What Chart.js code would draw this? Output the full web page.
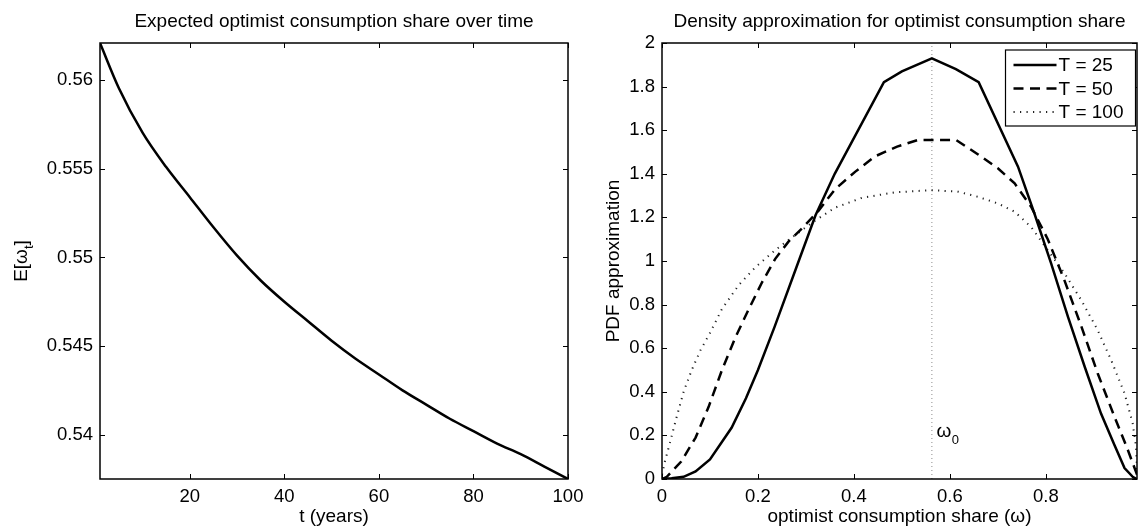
<!DOCTYPE html>
<html>
<head>
<meta charset="utf-8">
<script src="https://cdn.jsdelivr.net/npm/chart.js@4.4.1/dist/chart.umd.min.js"></script>
<style>
  html, body { margin: 0; padding: 0; background: #fff; }
  #wrap { position: relative; width: 1138px; height: 526px; overflow: hidden; background: #fff; }
  canvas { position: absolute; top: 0; }
</style>
</head>
<body>
<div id="wrap">
  <canvas id="left" width="668" height="526" style="left:0px"></canvas>
  <canvas id="right" width="548" height="526" style="left:590px"></canvas>
</div>
<script>
// left panel: expected optimist consumption share
const years = [1, 5, 10, 15, 20, 25, 30, 35, 40, 45, 50, 55, 60, 65, 70, 75, 80, 85, 90, 95, 100];
const expShare = [0.5621, 0.55955, 0.55704, 0.5551, 0.5534, 0.5517, 0.5501, 0.5487, 0.5475, 0.5464, 0.5453,
                  0.5443, 0.5434, 0.5425, 0.5417, 0.5409, 0.5402, 0.5395, 0.5389, 0.5382, 0.5375];
const leftXTicks = [20, 40, 60, 80, 100];
const leftYTicks = [0.54, 0.545, 0.55, 0.555, 0.56];

// right panel: density approximations
const omega25 = [0, 0.02, 0.045, 0.07, 0.10, 0.145, 0.175, 0.20, 0.235, 0.28, 0.32, 0.36, 0.4625, 0.50, 0.5625,
                 0.6125, 0.66, 0.742, 0.776, 0.811, 0.846, 0.881, 0.915, 0.943, 0.964, 0.982, 0.99];
const pdf25 = [0, 0.003, 0.01, 0.035, 0.09, 0.235, 0.37, 0.50, 0.70, 0.97, 1.21, 1.40, 1.82, 1.87, 1.93,
               1.88, 1.82, 1.433, 1.219, 0.989, 0.745, 0.515, 0.30, 0.156, 0.05, 0.008, 0];
const omega50 = [0, 0.01, 0.04, 0.07, 0.097, 0.125, 0.153, 0.181, 0.208, 0.236, 0.264, 0.292, 0.326, 0.361, 0.403,
                 0.444, 0.49, 0.533, 0.5625, 0.613, 0.658, 0.70, 0.735, 0.769, 0.804, 0.839, 0.874, 0.908, 0.943, 0.971, 0.99];
const pdf50 = [0, 0.01, 0.08, 0.19, 0.33, 0.50, 0.65, 0.78, 0.90, 1.01, 1.09, 1.15, 1.23, 1.33, 1.41,
               1.48, 1.525, 1.555, 1.555, 1.555, 1.49, 1.425, 1.356, 1.25, 1.10, 0.91, 0.70, 0.485, 0.286, 0.133, 0.02];
const omega100 = [0, 0.006, 0.017, 0.03, 0.045, 0.062, 0.08, 0.10, 0.125, 0.16, 0.194, 0.236, 0.278, 0.319, 0.361,
                  0.417, 0.486, 0.5625, 0.617, 0.658, 0.70, 0.735, 0.769, 0.804, 0.839, 0.874, 0.908, 0.936, 0.964, 0.981, 0.988, 0.99];
const pdf100 = [0.02, 0.08, 0.17, 0.28, 0.40, 0.50, 0.59, 0.67, 0.78, 0.89, 0.97, 1.05, 1.12, 1.185, 1.245,
                1.29, 1.315, 1.325, 1.318, 1.295, 1.264, 1.226, 1.157, 1.05, 0.943, 0.82, 0.683, 0.546, 0.393, 0.255, 0.15, 0.04];
const omega0 = 0.5625;
const rightXTicks = [0, 0.2, 0.4, 0.6, 0.8];
const rightYTicks = [0, 0.2, 0.4, 0.6, 0.8, 1, 1.2, 1.4, 1.6, 1.8, 2];
const seriesNames = ['T = 25', 'T = 50', 'T = 100'];

const FONT = "'Liberation Sans', Arial, Helvetica, sans-serif";
const TICK_LEN = 5;

function fmt(v) { return String(Number(v.toFixed(4))); }
function pts(xs, ys) { return xs.map((x, i) => ({ x: x, y: ys[i] })); }

// box + inward ticks on all four sides, matlab style
function drawFrame(chart) {
  const ctx = chart.ctx, a = chart.chartArea;
  const xs = chart.scales.x, ys = chart.scales.y;
  ctx.save();
  ctx.strokeStyle = '#000';
  ctx.lineWidth = 1;
  ctx.beginPath();
  xs.ticks.forEach(t => {
    const px = Math.round(xs.getPixelForValue(t.value)) + 0.5;
    ctx.moveTo(px, a.bottom); ctx.lineTo(px, a.bottom - TICK_LEN);
    ctx.moveTo(px, a.top); ctx.lineTo(px, a.top + TICK_LEN);
  });
  ys.ticks.forEach(t => {
    const py = Math.round(ys.getPixelForValue(t.value)) + 0.5;
    ctx.moveTo(a.left, py); ctx.lineTo(a.left + TICK_LEN, py);
    ctx.moveTo(a.right, py); ctx.lineTo(a.right - TICK_LEN, py);
  });
  ctx.stroke();
  ctx.lineWidth = 1.5;
  ctx.strokeRect(a.left, a.top, a.right - a.left, a.bottom - a.top);
  ctx.restore();
}

function drawTitle(chart, text) {
  const ctx = chart.ctx, a = chart.chartArea;
  ctx.save();
  ctx.fillStyle = '#000';
  ctx.font = '19px ' + FONT;
  ctx.textAlign = 'center';
  ctx.textBaseline = 'middle';
  ctx.fillText(text, (a.left + a.right) / 2, 22);
  ctx.restore();
}

function baseScale(min, max, ticks, size, isX) {
  return {
    type: 'linear', min: min, max: max,
    grid: { display: false, drawTicks: false }, border: { display: false },
    afterBuildTicks: s => { s.ticks = ticks.map(v => ({ value: v })); },
    afterFit: s => { if (isX) s.height = size; else s.width = size; },
    ticks: { color: '#000', font: { family: FONT, size: 18.5 }, padding: isX ? 6.5 : 7, callback: v => fmt(v), autoSkip: false, maxRotation: 0 }
  };
}

const leftPlugin = {
  id: 'leftDeco',
  afterDraw(chart) {
    drawFrame(chart);
    drawTitle(chart, 'Expected optimist consumption share over time');
    const ctx = chart.ctx, a = chart.chartArea;
    // y label E[w_t] with subscript
    ctx.save();
    ctx.translate(22, (a.top + a.bottom) / 2);
    ctx.rotate(-Math.PI / 2);
    ctx.fillStyle = '#000';
    ctx.textBaseline = 'middle';
    ctx.font = '19px ' + FONT;
    const w1 = ctx.measureText('E[ω').width;
    ctx.font = '13px ' + FONT;
    const w2 = ctx.measureText('t').width;
    ctx.font = '19px ' + FONT;
    const w3 = ctx.measureText(']').width;
    let x0 = -(w1 + w2 + w3) / 2;
    ctx.textAlign = 'left';
    ctx.fillText('E[ω', x0, 0);
    ctx.font = '13px ' + FONT;
    ctx.fillText('t', x0 + w1, 7);
    ctx.font = '19px ' + FONT;
    ctx.fillText(']', x0 + w1 + w2, 0);
    ctx.restore();
  }
};

const rightPlugin = {
  id: 'rightDeco',
  afterDraw(chart) {
    drawFrame(chart);
    drawTitle(chart, 'Density approximation for optimist consumption share');
    const ctx = chart.ctx, a = chart.chartArea;
    const xs = chart.scales.x, ys = chart.scales.y;
    // omega_0 label
    ctx.save();
    ctx.fillStyle = '#000';
    ctx.textBaseline = 'middle';
    ctx.textAlign = 'left';
    ctx.font = '19px ' + FONT;
    const lx = xs.getPixelForValue(0.572), ly = ys.getPixelForValue(0.215);
    ctx.fillText('ω', lx, ly);
    const ww = ctx.measureText('ω').width;
    ctx.font = '13px ' + FONT;
    ctx.fillText('0', lx + ww + 0.5, ly + 8);
    ctx.restore();
    // legend
    const bw = 130, bh = 76;
    const bx = a.right - bw - 1.5, by = a.top + 7;
    const dashes = chart.data.datasets.slice(0, 3).map(d => ({ dash: d.borderDash || [], w: d.borderWidth, c: d.borderColor }));
    ctx.save();
    ctx.fillStyle = '#fff';
    ctx.fillRect(bx, by, bw, bh);
    ctx.strokeStyle = '#000';
    ctx.lineWidth = 1.2;
    ctx.strokeRect(bx, by, bw, bh);
    seriesNames.forEach((name, i) => {
      const yy = by + 15 + i * 23.5;
      ctx.strokeStyle = dashes[i].c;
      ctx.lineWidth = dashes[i].w;
      ctx.setLineDash(dashes[i].dash);
      ctx.beginPath();
      ctx.moveTo(bx + 8, yy);
      ctx.lineTo(bx + 51, yy);
      ctx.stroke();
      ctx.setLineDash([]);
      ctx.fillStyle = '#000';
      ctx.font = '19px ' + FONT;
      ctx.textAlign = 'left';
      ctx.textBaseline = 'middle';
      ctx.fillText(name, bx + 53, yy + 1);
    });
    ctx.restore();
  }
};

new Chart(document.getElementById('left'), {
  type: 'line',
  data: {
    datasets: [{
      data: pts(years, expShare),
      borderColor: '#000', borderWidth: 2.5, pointRadius: 0,
      cubicInterpolationMode: 'monotone', fill: false
    }]
  },
  options: {
    responsive: false, animation: false, devicePixelRatio: 1,
    layout: { padding: { left: 0, right: 100, top: 43, bottom: 0 } },
    plugins: { legend: { display: false }, tooltip: { enabled: false } },
    scales: {
      x: Object.assign(baseScale(1, 100, leftXTicks, 47, true), {
        title: { display: true, text: 't (years)', color: '#000', font: { family: FONT, size: 19 }, padding: { top: 0, bottom: -2.5 } }
      }),
      y: baseScale(0.5375, 0.5621, leftYTicks, 100, false)
    }
  },
  plugins: [leftPlugin]
});

new Chart(document.getElementById('right'), {
  type: 'line',
  data: {
    datasets: [
      { label: seriesNames[0], data: pts(omega25, pdf25), borderColor: '#000', borderWidth: 2.5, pointRadius: 0, tension: 0, fill: false },
      { label: seriesNames[1], data: pts(omega50, pdf50), borderColor: '#000', borderWidth: 2.5, borderDash: [10, 6.5], pointRadius: 0, tension: 0, fill: false },
      { label: seriesNames[2], data: pts(omega100, pdf100), borderColor: '#222', borderWidth: 2, borderDash: [1.2, 5.3], pointRadius: 0, tension: 0, fill: false },
      { label: 'omega0', data: [{ x: omega0, y: 0 }, { x: omega0, y: 2 }], borderColor: '#8c8c8c', borderWidth: 1, borderDash: [1, 3], pointRadius: 0, order: 10 }
    ]
  },
  options: {
    responsive: false, animation: false, devicePixelRatio: 1,
    layout: { padding: { left: 0, right: 1, top: 43, bottom: 0 } },
    plugins: { legend: { display: false }, tooltip: { enabled: false } },
    scales: {
      x: Object.assign(baseScale(0, 0.99, rightXTicks, 47, true), {
        title: { display: true, text: 'optimist consumption share (ω)', color: '#000', font: { family: FONT, size: 19 }, padding: { top: 0, bottom: -2.5 } }
      }),
      y: Object.assign(baseScale(0, 2, rightYTicks, 72, false), {
        title: { display: true, text: 'PDF approximation', color: '#000', font: { family: FONT, size: 19 }, padding: { top: 12, bottom: 0 } }
      })
    }
  },
  plugins: [rightPlugin]
});
</script>
</body>
</html>
